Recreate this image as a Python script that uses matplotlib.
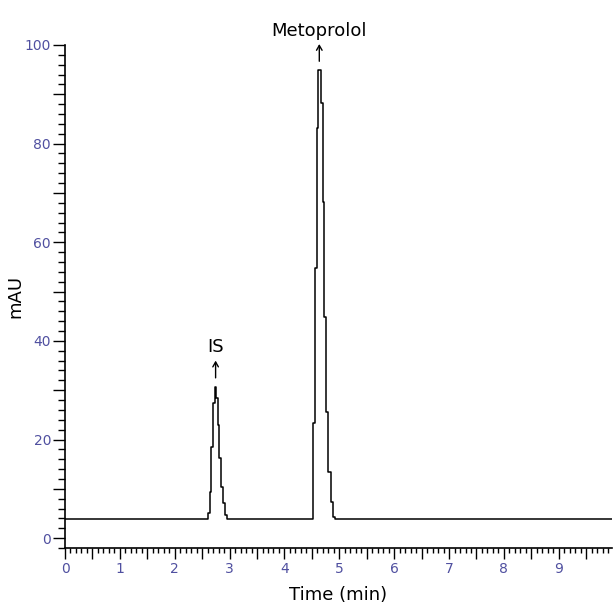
import matplotlib
matplotlib.use("Agg")
import matplotlib.pyplot as plt
from matplotlib.ticker import MultipleLocator, FuncFormatter

# chromatogram trace (time in min, signal in mAU)
czas_min = [0.0, 2.59, 2.62, 2.655, 2.685, 2.715, 2.745, 2.77, 2.79, 2.82, 2.855, 2.895, 2.935, 2.97,
            4.51, 4.54, 4.57, 4.60, 4.625, 4.65, 4.68, 4.71, 4.74, 4.775, 4.82, 4.86, 4.895, 4.93, 9.97]
sygnal_mau = [3.9, 3.9, 5.1, 9.4, 18.5, 27.4, 30.7, 28.5, 22.9, 16.2, 10.4, 7.1, 4.7, 3.9,
              3.9, 23.3, 54.7, 83.1, 94.9, 94.9, 88.2, 68.2, 44.9, 25.6, 13.4, 7.4, 4.3, 3.9, 3.9]

nazwy_pikow = ["IS", "Metoprolol"]
czasy_pikow = [2.745, 4.635]
wysokosci_pikow = [30.7, 94.9]

kolor_etykiet = "#5050a0"

fig = plt.figure(figsize=(6.14, 6.06), dpi=100)
ax = fig.add_axes([65 / 614, 58 / 606, 547 / 614, 503 / 606])

ax.plot(czas_min, sygnal_mau, color="black", lw=1.1, drawstyle="steps-mid")

ax.set_xlim(0, 9.97)
ax.set_ylim(-2, 100)

for s in ["top", "right"]:
    ax.spines[s].set_visible(False)
for s in ["left", "bottom"]:
    ax.spines[s].set_linewidth(1.2)

ax.xaxis.set_major_locator(MultipleLocator(0.5))
ax.xaxis.set_minor_locator(MultipleLocator(0.1))
ax.xaxis.set_major_formatter(FuncFormatter(lambda v, p: f"{v:.0f}" if abs(v - round(v)) < 1e-6 else ""))
ax.yaxis.set_major_locator(MultipleLocator(10))
ax.yaxis.set_minor_locator(MultipleLocator(2))
ax.yaxis.set_major_formatter(FuncFormatter(lambda v, p: f"{v:.0f}" if round(v) % 20 == 0 else ""))

ax.tick_params(axis="x", which="major", length=8, width=1, pad=2, labelsize=10, labelcolor=kolor_etykiet)
ax.tick_params(axis="x", which="minor", length=3.6, width=1)
ax.tick_params(axis="y", which="major", length=9, width=1, pad=1, labelsize=10, labelcolor=kolor_etykiet)
ax.tick_params(axis="y", which="minor", length=5.3, width=1)

ax.set_xlabel("Time (min)", fontsize=13, labelpad=7)
ax.set_ylabel("mAU", fontsize=13, labelpad=0)

for nazwa, t, h in zip(nazwy_pikow, czasy_pikow, wysokosci_pikow):
    ax.annotate("", xy=(t, h + 5.3), xytext=(t, h + 1.8),
                arrowprops=dict(arrowstyle="->,head_length=0.35,head_width=0.2", lw=1,
                                color="black", shrinkA=0, shrinkB=0),
                annotation_clip=False)
    ax.text(t, h + 7.0, nazwa, ha="center", va="baseline", fontsize=13, clip_on=False)

fig.savefig("out.png", dpi=100)
